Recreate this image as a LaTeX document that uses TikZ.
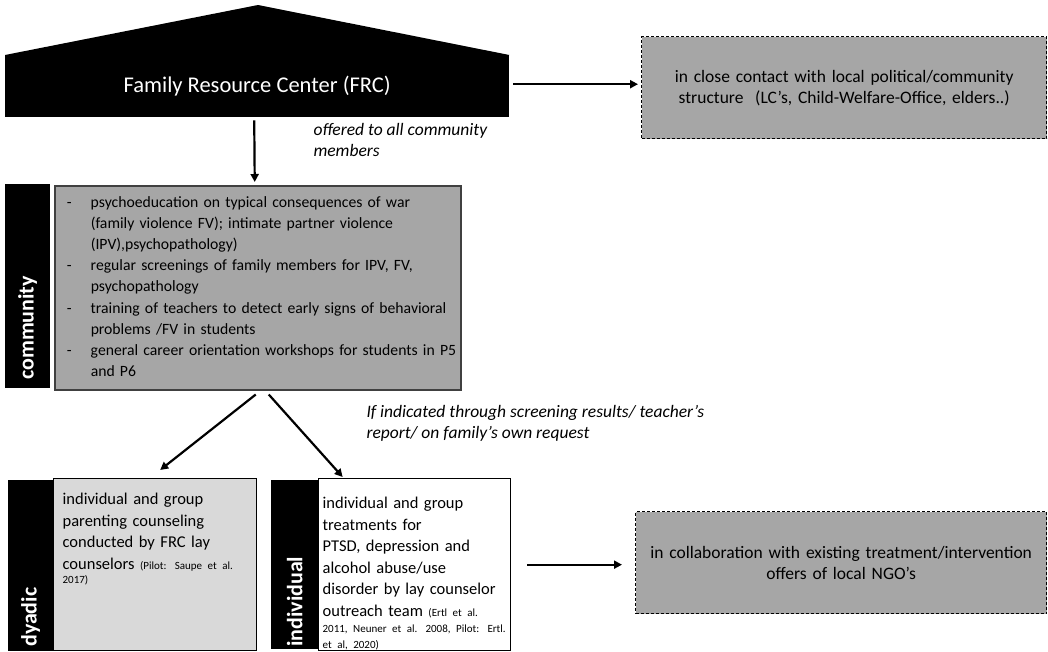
\documentclass[tikz,border=0pt]{standalone}
\usepackage{fontspec}
\setmainfont{Carlito}
\usetikzlibrary{arrows.meta}
\definecolor{boxgrey}{HTML}{A6A6A6}
\definecolor{lightgrey}{HTML}{D9D9D9}
\definecolor{rimgrey}{HTML}{404040}
\newcommand{\bodyfont}{\fontsize{17.5}{21}\selectfont}
\newcommand{\boxfont}{\fontsize{16.5}{21.5}\selectfont}
\newcommand{\reffont}{\fontsize{11}{13}\selectfont}

\begin{document}
\begin{tikzpicture}[x=1pt,y=1pt,font=\bodyfont,
  arr/.style={line width=2.2pt,-{Triangle[length=8pt,width=8pt]}},
  dashbox/.style={fill=boxgrey,draw=black,line width=1.3pt,dash pattern=on 3pt off 2pt,
    anchor=north west,minimum height=102pt,inner xsep=8pt,align=center},
  levelbox/.style={draw=black,line width=1.3pt,anchor=north west,inner ysep=6pt,
    font=\boxfont,align=left},
  levelbar/.style={fill=black,text=white,rotate=90,anchor=north west,inner ysep=0pt,
    font=\fontsize{22}{22}\selectfont\bfseries,align=left}]
\useasboundingbox (0,0) rectangle (1048,-651);

\node[fill=black,text=white,font=\fontsize{22.5}{27}\selectfont,anchor=north west,
  minimum width=504pt,minimum height=62pt,inner sep=0pt] (frc) at (5,-55) {Family Resource Center (FRC)};
\fill (frc.north west) -- (258,-5) -- (frc.north east) -- cycle;

\node[dashbox,text width=389pt] (ctc) at (641,-36)
  {in close contact with local political/community\\structure~ (LC’s, Child-Welfare-Office, elders..)};
\node[dashbox,text width=395pt] (ngo) at (635,-511)
  {in collaboration with existing treatment/intervention\\offers of local NGO’s};

\node[fill=boxgrey,draw=rimgrey,line width=1.5pt,anchor=north west,text width=382pt,inner xsep=12pt,
  minimum height=204pt,align=left,font=\fontsize{15.7}{21.1}\selectfont] (comm) at (54,-185) {%
  \begin{tabular}{@{}p{24pt}@{}l@{}}
  - & psychoeducation on typical consequences of war\\
    & (family violence FV); intimate partner violence\\
    & (IPV),psychopathology)\\
  - & regular screenings of family members for IPV, FV,\\
    & psychopathology\\
  - & training of teachers to detect early signs of behavioral\\
    & problems /FV in students\\
  - & general career orientation workshops for students in P5\\
    & and P6
  \end{tabular}};

\node[levelbox,fill=lightgrey,text width=185pt,inner xsep=9pt,text height=20pt,text depth=140pt]
  (dyad) at (53,-478) {%
  \begin{tabular}[t]{@{}l@{}}
  individual and group\\
  parenting counseling\\
  conducted by FRC lay\\
  counselors {\reffont (Pilot: Saupe et al.}\\[-7pt]
  {\reffont 2017)}
  \end{tabular}};
\node[levelbox,fill=white,text width=184pt,inner xsep=4pt,text height=24pt,text depth=136pt]
  (indiv) at (318,-478) {%
  \begin{tabular}[t]{@{}l@{}}
  individual and group\\
  treatments for\\
  PTSD, depression and\\
  alcohol abuse/use\\
  disorder by lay counselor\\
  outreach team {\reffont (Ertl et al.}\\[-5pt]
  {\reffont 2011, Neuner et al. 2008, Pilot: Ertl.}\\[-6pt]
  {\reffont et al, 2020)}
  \end{tabular}};

\foreach \x/\y/\len/\w/\sep/\lab/\nm in {5/388/204/45/8/community/commbar,
  8/651/171/45/4/dyadic/dyadbar,271/649/169/47/2/individual/indivbar}{
  \pgfmathsetmacro\tw{\len-2*\sep}
  \node[levelbar,minimum height=\w pt,inner xsep=\sep pt,text width=\tw pt] (\nm) at (\x,-\y) {\lab};}

\node[anchor=west,font=\bodyfont\itshape,align=left] (offer) at (310,-140) {offered to all community\\members};
\node[anchor=west,font=\bodyfont\itshape,align=left] (cond) at (363,-423)
  {If indicated through screening results/ teacher’s\\report/ on family’s own request};

\draw[arr,shorten <=4pt,shorten >=3pt] ([yshift=2pt]frc.east) -- ([yshift=2pt]frc.east -| ctc.west);
\draw[arr,shorten <=3pt,shorten >=3pt] ([xshift=-3pt]frc.south) -- ([xshift=-3pt]comm.north);
\draw[arr] ([xshift=-2pt,yshift=-4pt]comm.south) -- ([xshift=5pt,yshift=8pt]dyad.north);
\draw[arr] ([xshift=11pt,yshift=-4pt]comm.south) -- ([xshift=-72pt,yshift=1pt]indiv.north);
\draw[arr,shorten <=16pt,shorten >=13pt] (indiv.east) -- (indiv.east -| ngo.west);
\end{tikzpicture}
\end{document}
